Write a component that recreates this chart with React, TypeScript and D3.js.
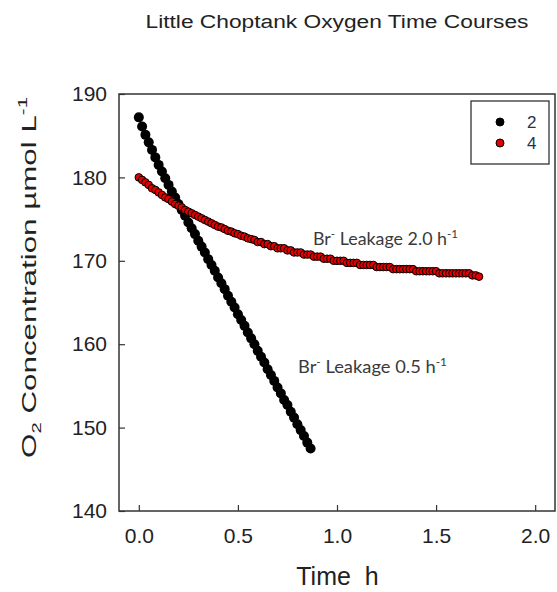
import React, { useEffect, useRef } from "react";
import * as d3 from "d3";

// one sample per minute, time axis in hours
const minutesPerSample = 1;

// series "2" (Br- leakage 0.5 h-1), O2 in umol/L
const series2 = [
  187.2, 186.1, 185.1, 184.2, 183.3, 182.4, 181.5, 180.7, 179.9, 179.1,
  178.3, 177.6, 176.8, 176.1, 175.4, 174.6, 173.9, 173.2, 172.4, 171.7,
  171.0, 170.2, 169.5, 168.8, 168.0, 167.3, 166.6, 165.8, 165.1, 164.4,
  163.6, 162.9, 162.2, 161.4, 160.7, 160.0, 159.2, 158.5, 157.8, 157.0,
  156.3, 155.6, 154.8, 154.1, 153.3, 152.7, 151.9, 151.2, 150.4, 149.7,
  149.0, 148.2, 147.5,
];

// series "4" (Br- leakage 2.0 h-1)
const series4 = [
  180.0, 179.7, 179.4, 179.1, 178.7, 178.5, 178.2, 177.9, 177.6, 177.4,
  177.1, 176.8, 176.6, 176.4, 176.1, 175.9, 175.7, 175.5, 175.3, 175.1,
  174.9, 174.7, 174.5, 174.3, 174.1, 174.0, 173.8, 173.6, 173.5, 173.3,
  173.2, 173.0, 172.9, 172.7, 172.6, 172.5, 172.25, 172.25, 172.0, 172.0,
  171.75, 171.75, 171.5, 171.5, 171.5, 171.25, 171.25, 171.0, 171.0, 171.0,
  170.75, 170.75, 170.75, 170.5, 170.5, 170.5, 170.25, 170.25, 170.25, 170.0,
  170.0, 170.0, 170.0, 169.75, 169.75, 169.75, 169.75, 169.5, 169.5, 169.5,
  169.5, 169.5, 169.25, 169.25, 169.25, 169.25, 169.25, 169.0, 169.0, 169.0,
  169.0, 169.0, 169.0, 169.0, 168.75, 168.75, 168.75, 168.75, 168.75, 168.75,
  168.75, 168.5, 168.5, 168.5, 168.5, 168.5, 168.5, 168.5, 168.5, 168.5,
  168.5, 168.25, 168.25, 168.1,
];

const xTicks = [0, 0.5, 1.0, 1.5, 2.0];
const yTicks = [140, 150, 160, 170, 180, 190];
const legendLabels = ["2", "4"];

const W = 557;
const H = 592;

export default function App() {
  const ref = useRef<SVGSVGElement | null>(null);

  useEffect(() => {
    const svg = d3.select(ref.current);
    svg.selectAll("*").remove();

    const x = d3.scaleLinear().domain([-0.1, 2.1]).range([119, 555]);
    const y = d3.scaleLinear().domain([140, 190]).range([511, 94]);
    const toPts = (vals: number[]) =>
      vals.map((v, i) => ({ t: (i * minutesPerSample) / 60, v }));
    const font = "Arial, 'Liberation Sans', sans-serif";

    // title
    svg
      .append("text")
      .attr("x", 337)
      .attr("y", 28)
      .attr("text-anchor", "middle")
      .attr("font-family", font)
      .attr("font-size", 18)
      .attr("fill", "#222")
      .attr("textLength", 383)
      .attr("lengthAdjust", "spacingAndGlyphs")
      .text("Little Choptank Oxygen Time Courses");

    // frame
    svg
      .append("rect")
      .attr("x", x(-0.1))
      .attr("y", y(190))
      .attr("width", x(2.1) - x(-0.1))
      .attr("height", y(140) - y(190))
      .attr("fill", "none")
      .attr("stroke", "#333")
      .attr("stroke-width", 1.5);

    // axes, inward ticks
    const xAxis = svg
      .append("g")
      .attr("transform", `translate(0,${y(140)})`)
      .call(d3.axisBottom(x).tickValues(xTicks).tickSizeInner(-6).tickSizeOuter(0).tickPadding(17).tickFormat(d3.format(".1f")));
    const yAxis = svg
      .append("g")
      .attr("transform", `translate(${x(-0.1)},0)`)
      .call(d3.axisLeft(y).tickValues(yTicks).tickSizeInner(-6).tickSizeOuter(0).tickPadding(12));
    [xAxis, yAxis].forEach((g) => {
      g.select(".domain").remove();
      g.selectAll("line").attr("stroke", "#333").attr("stroke-width", 1.2);
      g.selectAll("text")
        .attr("font-family", font)
        .attr("font-size", 21)
        .attr("fill", "#222");
    });

    // data
    svg
      .append("g")
      .selectAll("circle")
      .data(toPts(series2))
      .join("circle")
      .attr("cx", (d) => x(d.t))
      .attr("cy", (d) => y(d.v))
      .attr("r", 5)
      .attr("fill", "#000");

    svg
      .append("g")
      .selectAll("circle")
      .data(toPts(series4))
      .join("circle")
      .attr("cx", (d) => x(d.t))
      .attr("cy", (d) => y(d.v))
      .attr("r", 3.8)
      .attr("fill", "#e00000")
      .attr("stroke", "#000")
      .attr("stroke-width", 1);

    // annotations
    const note = (tx: number, ty: number, rate: string, len: number) => {
      const t = svg
        .append("text")
        .attr("x", tx)
        .attr("y", ty)
        .attr("font-family", "Lato, 'Open Sans', sans-serif")
        .attr("font-size", 17)
        .attr("fill", "#3a3a3a")
        .attr("textLength", len)
        .attr("lengthAdjust", "spacingAndGlyphs");
      t.append("tspan").text("Br");
      t.append("tspan").attr("dy", -7).attr("font-size", 11).text("-");
      t.append("tspan").attr("dy", 7).text(` Leakage ${rate} h`);
      t.append("tspan").attr("dy", -7).attr("font-size", 11).text("-1");
    };
    note(313, 245, "2.0", 145);
    note(298, 373, "0.5", 149);

    // axis titles
    svg
      .append("text")
      .attr("x", 337.5)
      .attr("y", 585)
      .attr("text-anchor", "middle")
      .attr("font-family", font)
      .attr("font-size", 25)
      .attr("fill", "#222")
      .style("white-space", "pre")
      .text("Time  h");

    const yl = svg
      .append("text")
      .attr("transform", "translate(36,277.5) rotate(-90)")
      .attr("text-anchor", "middle")
      .attr("font-family", font)
      .attr("font-size", 20)
      .attr("fill", "#222")
      .attr("textLength", 361)
      .attr("lengthAdjust", "spacingAndGlyphs");
    yl.append("tspan").text("O");
    yl.append("tspan").attr("dy", 5).attr("font-size", 13).text("2");
    yl.append("tspan").attr("dy", -5).text(" Concentration µmol L");
    yl.append("tspan").attr("dy", -9).attr("font-size", 13).text("-1");

    // legend
    const lg = svg.append("g");
    lg.append("rect")
      .attr("x", 471)
      .attr("y", 101)
      .attr("width", 78)
      .attr("height", 63)
      .attr("fill", "#fff")
      .attr("stroke", "#333")
      .attr("stroke-width", 1.3);
    legendLabels.forEach((lab, i) => {
      const cy = 122 + i * 21;
      lg.append("circle")
        .attr("cx", 500)
        .attr("cy", cy)
        .attr("r", 4)
        .attr("fill", i === 0 ? "#000" : "#e00000")
        .attr("stroke", "#000")
        .attr("stroke-width", 1);
      lg.append("text")
        .attr("x", 527)
        .attr("y", cy + 6)
        .attr("font-family", font)
        .attr("font-size", 17)
        .attr("fill", "#26324a")
        .text(lab);
    });
  }, []);

  return (
    <svg
      ref={ref}
      width={W}
      height={H}
      style={{ position: "absolute", left: 0, top: 0, background: "#fff" }}
    />
  );
}
